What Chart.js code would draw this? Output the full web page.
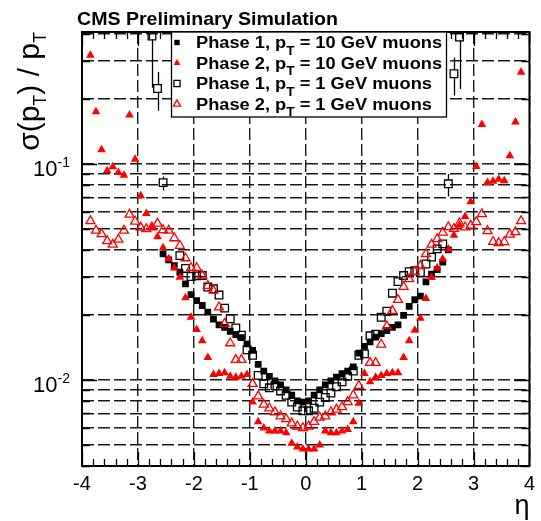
<!DOCTYPE html>
<html>
<head>
<meta charset="utf-8">
<script src="https://cdn.jsdelivr.net/npm/chart.js@4.4.1/dist/chart.umd.min.js"></script>
<style>
  html, body { margin: 0; padding: 0; background: #fff; }
</style>
</head>
<body>
<canvas id="ptResolution" width="541" height="521"></canvas>
<script>
// eta bin centres
const etaBins = [
  -3.85, -3.75, -3.65, -3.55, -3.45, -3.35, -3.25, -3.15, -3.05, -2.95,
  -2.85, -2.75, -2.65, -2.55, -2.45, -2.35, -2.25, -2.15, -2.05, -1.95,
  -1.85, -1.75, -1.65, -1.55, -1.45, -1.35, -1.25, -1.15, -1.05, -0.95,
  -0.85, -0.75, -0.65, -0.55, -0.45, -0.35, -0.25, -0.15, -0.05,
  0.05, 0.15, 0.25, 0.35, 0.45, 0.55, 0.65, 0.75, 0.85, 0.95,
  1.05, 1.15, 1.25, 1.35, 1.45, 1.55, 1.65, 1.75, 1.85, 1.95,
  2.05, 2.15, 2.25, 2.35, 2.45, 2.55, 2.65, 2.75, 2.85, 2.95,
  3.05, 3.15, 3.25, 3.35, 3.45, 3.55, 3.65, 3.75, 3.85
];

// sigma(pT)/pT per bin, null where there is no point
const phase1Pt10 = [
  null, null, null, null, null, null, null, null, null, null,
  null, null, null, 0.0383, 0.0359, 0.0338, 0.0315, 0.0278, 0.0248, 0.0233,
  0.0221, 0.0206, 0.0191, 0.0180, 0.0175, 0.0168, 0.0162, 0.0157, 0.0147, 0.0137,
  0.0118, 0.0110, 0.0104, 0.0099, 0.0095, 0.0090, 0.0085, 0.0080, 0.0079,
  0.0080, 0.0085, 0.0090, 0.0095, 0.0099, 0.0103, 0.0107, 0.0110, 0.0115, 0.0133,
  0.0143, 0.0150, 0.0158, 0.0164, 0.0169, 0.0175, 0.0180, 0.0199, 0.0219, 0.0235,
  0.0244, 0.0284, 0.0309, 0.0324, 0.0351, 0.0400, null, null, null, null,
  null, null, null, null, null, null, null, null, null
];

const phase2Pt10 = [
  0.318, 0.174, 0.116, 0.0928, 0.0968, 0.0912, 0.0886, 0.168, 0.105, 0.0712,
  0.0589, 0.0507, 0.046, 0.0409, 0.0364, 0.033, 0.0299, 0.024, 0.0195, 0.0171,
  0.0152, 0.0127, 0.0106, 0.0107, 0.0108, 0.0104, 0.0103, 0.0104, 0.0106, 0.0079,
  0.0064, 0.0060, 0.0058, 0.0058, 0.0058, 0.0057, 0.0051, 0.0049, 0.0048,
  0.0048, 0.0048, 0.0050, 0.0058, 0.0057, 0.0057, 0.0058, 0.0059, 0.0064, 0.0078,
  0.0107, 0.0098, 0.0103, 0.0105, 0.0107, 0.0108, 0.0108, 0.0127, 0.0152, 0.0170,
  0.0193, 0.0238, 0.0298, 0.0330, 0.0363, 0.0403, 0.0467, 0.052, 0.057, 0.0667,
  0.0971, 0.152, 0.0819, 0.083, 0.0849, 0.0835, 0.109, 0.156, 0.265
];

const phase1Pt1 = [
  null, null, null, null, null, null, null, null, null, null,
  null, 0.39, 0.223, 0.0818, null, null, 0.0376, 0.0328, 0.0301, 0.0303,
  0.0304, 0.0269, 0.0264, 0.0247, 0.0215, 0.0192, 0.0174, 0.0161, 0.0138, 0.0130,
  0.0105, 0.0096, 0.0092, 0.0094, 0.0089, 0.0085, 0.0079, 0.0075, 0.0072,
  0.0072, 0.0074, 0.0079, 0.0083, 0.0087, 0.0093, 0.0098, 0.0104, 0.0110, 0.0130,
  0.0132, 0.0160, 0.0163, 0.0195, 0.0208, 0.0252, 0.0285, 0.0304, 0.0317, 0.0320,
  0.0314, 0.0344, 0.0370, 0.0404, 0.0426, 0.0808, 0.261, 0.386, null, null,
  null, null, null, null, null, null, null, null, null
];

const phase2Pt1 = [
  0.0543, 0.0491, 0.0473, 0.0439, 0.0423, 0.0446, 0.0491, 0.0582, 0.0541, 0.0507,
  0.0499, 0.0509, 0.0529, 0.0494, 0.0491, 0.0453, 0.0418, 0.0366, 0.0330, 0.0330,
  0.0304, 0.0273, 0.0259, 0.0217, 0.0182, 0.0148, 0.0124, 0.0124, null, 0.0096,
  0.0084, 0.0077, 0.0074, 0.0071, 0.0068, 0.0066, 0.0063, 0.0061, 0.0060,
  0.0061, 0.0064, 0.0067, 0.0068, 0.0071, 0.0073, 0.0075, 0.0079, 0.0085, 0.0094,
  null, 0.0120, 0.0120, 0.0146, 0.0177, 0.0209, 0.0235, 0.0270, 0.0293, 0.0317,
  0.0338, 0.0383, 0.0423, 0.0449, 0.0481, 0.0510, 0.0500, 0.0531, 0.0509, 0.0518,
  0.0538, 0.0586, 0.0489, 0.0436, 0.0430, 0.0435, 0.0471, 0.0483, 0.0543
];

// visible error bars on the forward 1 GeV phase 1 points
const errEta = [-2.75, -2.65, -2.55, 2.55, 2.65, 2.75];
const errLow = [0.225, 0.176, 0.0753, 0.0706, 0.207, 0.222];
const errHigh = [0.55, 0.266, 0.0874, 0.0896, 0.31, 0.55];

const xTicks = [-4, -3, -2, -1, 0, 1, 2, 3, 4];
const yGrid = [0.004, 0.005, 0.006, 0.007, 0.008, 0.009,
  0.01, 0.02, 0.03, 0.04, 0.05, 0.06, 0.07, 0.08, 0.09,
  0.1, 0.2, 0.3, 0.4];
const yDecades = [0.01, 0.1];

const legendLabels = [
  ['Phase 1, p', 'T', ' = 10 GeV muons'],
  ['Phase 2, p', 'T', ' = 10 GeV muons'],
  ['Phase 1, p', 'T', ' = 1 GeV muons'],
  ['Phase 2, p', 'T', ' = 1 GeV muons']
];

const FONT = '"Liberation Sans", Arial, Helvetica, sans-serif';

function toPoints(values) {
  const pts = [];
  etaBins.forEach((eta, i) => {
    if (values[i] !== null) pts.push({ x: eta, y: values[i] });
  });
  return pts;
}

// draws text pieces one after another, subscripts shifted down
function drawRuns(ctx, runs, x, y, sx) {
  ctx.save();
  ctx.translate(x, y);
  ctx.scale(sx, 1);
  let cx = 0;
  runs.forEach(r => {
    ctx.font = r.font;
    ctx.fillText(r.t, cx, r.dy || 0);
    cx += ctx.measureText(r.t).width;
  });
  ctx.restore();
  return cx * sx;
}

function runsWidth(ctx, runs) {
  let w = 0;
  runs.forEach(r => { ctx.font = r.font; w += ctx.measureText(r.t).width; });
  return w;
}

const styles = [
  { pointStyle: 'rect', radius: 4.8, fill: '#000', stroke: '#000', bw: 0 },
  { pointStyle: 'triangle', radius: 5, fill: '#ff0000', stroke: '#ff0000', bw: 0 },
  { pointStyle: 'rect', radius: 5.4, fill: 'rgba(0,0,0,0)', stroke: '#000', bw: 1.3 },
  { pointStyle: 'triangle', radius: 5.2, fill: 'rgba(0,0,0,0)', stroke: '#ff0000', bw: 1.3 }
];

const decorPlugin = {
  id: 'decor',
  afterDatasetsDraw(chart) {
    const ctx = chart.ctx;
    const area = chart.chartArea;
    const xs = chart.scales.x;
    const ys = chart.scales.y;

    // error bars
    ctx.save();
    ctx.beginPath();
    ctx.rect(area.left, area.top, area.right - area.left, area.bottom - area.top);
    ctx.clip();
    ctx.strokeStyle = '#000';
    ctx.lineWidth = 1.3;
    const half = styles[2].radius * Math.SQRT1_2;
    errEta.forEach((eta, k) => {
      const i = etaBins.indexOf(eta);
      const px = Math.round(xs.getPixelForValue(eta)) + 0.5;
      const py = ys.getPixelForValue(phase1Pt1[i]);
      ctx.beginPath();
      ctx.moveTo(px, ys.getPixelForValue(errHigh[k]));
      ctx.lineTo(px, py - half);
      ctx.moveTo(px, py + half);
      ctx.lineTo(px, ys.getPixelForValue(errLow[k]));
      ctx.stroke();
    });
    ctx.restore();

    // tick marks inside the frame
    ctx.save();
    ctx.strokeStyle = '#000';
    ctx.lineWidth = 1.3;
    ctx.beginPath();
    for (let i = 0; i <= 40; i++) {
      const v = -4 + i * 0.2;
      const major = i % 5 === 0;
      const len = major ? 14 : 7;
      const px = Math.round(xs.getPixelForValue(v)) + 0.5;
      ctx.moveTo(px, area.bottom);
      ctx.lineTo(px, area.bottom - len);
      ctx.moveTo(px, area.top);
      ctx.lineTo(px, area.top + len);
    }
    yGrid.forEach(v => {
      const len = yDecades.includes(v) ? 15 : 8;
      const py = Math.round(ys.getPixelForValue(v)) + 0.5;
      ctx.moveTo(area.left, py);
      ctx.lineTo(area.left + len, py);
      ctx.moveTo(area.right, py);
      ctx.lineTo(area.right - len, py);
    });
    ctx.stroke();

    // frame
    ctx.lineWidth = 2;
    ctx.strokeRect(area.left, area.top, area.right - area.left, area.bottom - area.top);
    ctx.restore();

    // legend box
    ctx.save();
    const lx = 171.5, ly = area.top, lw = 275, lh = 85;
    ctx.fillStyle = '#fff';
    ctx.fillRect(lx, ly, lw, lh);
    ctx.strokeStyle = '#000';
    ctx.lineWidth = 1.3;
    ctx.strokeRect(lx, ly, lw, lh);
    const rowY = [42.5, 63, 83.5, 104];
    legendLabels.forEach((lab, k) => {
      const st = styles[k];
      ctx.fillStyle = st.fill;
      ctx.strokeStyle = st.stroke;
      ctx.lineWidth = st.bw;
      Chart.helpers.drawPoint(ctx, {
        pointStyle: st.pointStyle,
        radius: st.radius * 0.8,
        rotation: 0,
        borderWidth: st.bw
      }, 177, rowY[k]);
      ctx.fillStyle = '#000';
      ctx.textBaseline = 'alphabetic';
      ctx.textAlign = 'left';
      drawRuns(ctx, [
        { t: lab[0], font: 'bold 16px ' + FONT },
        { t: lab[1], font: 'bold 12px ' + FONT, dy: 6.5 },
        { t: lab[2], font: 'bold 16px ' + FONT }
      ], 196, rowY[k] + 5.5, 1.14);
    });
    ctx.restore();
  },
  afterDraw(chart) {
    const ctx = chart.ctx;
    const area = chart.chartArea;
    const ys = chart.scales.y;
    ctx.save();
    ctx.fillStyle = '#000';
    ctx.textAlign = 'left';
    ctx.textBaseline = 'alphabetic';

    // title
    drawRuns(ctx, [{ t: 'CMS Preliminary Simulation', font: 'bold 19px ' + FONT }], 77, 25, 1.03);

    // decade labels on the log axis
    yDecades.forEach(v => {
      const py = ys.getPixelForValue(v);
      const exp = String(Math.round(Math.log10(v)));
      const runs = [{ t: '10', font: '22px ' + FONT }];
      const w = runsWidth(ctx, runs);
      ctx.font = '14px ' + FONT;
      const ew = ctx.measureText(exp).width;
      const right = 70;
      ctx.font = '22px ' + FONT;
      ctx.fillText('10', right - ew - w, py + 12);
      ctx.font = '14px ' + FONT;
      ctx.fillText(exp, right - ew, py + 3);
    });

    // y title, rotated, ending at the top of the frame
    const titleRuns = [
      { t: '\u03c3(p', font: '30px ' + FONT },
      { t: 'T', font: '18px ' + FONT, dy: 7 },
      { t: ') / p', font: '30px ' + FONT },
      { t: 'T', font: '18px ' + FONT, dy: 7 }
    ];
    const tw = runsWidth(ctx, titleRuns);
    ctx.save();
    ctx.translate(39, area.top);
    ctx.rotate(-Math.PI / 2);
    drawRuns(ctx, titleRuns, -tw, 0, 1);
    ctx.restore();

    // x title
    ctx.font = '27px ' + FONT;
    ctx.textAlign = 'right';
    ctx.fillText('\u03b7', area.right, 514);
    ctx.restore();
  }
};

function dataset(label, values, st, order) {
  return {
    label: label,
    data: toPoints(values),
    pointStyle: st.pointStyle,
    pointRadius: st.radius,
    pointHoverRadius: st.radius,
    backgroundColor: st.fill,
    borderColor: st.stroke,
    borderWidth: st.bw,
    order: order
  };
}

const gridColor = '#1a1a1a';

new Chart(document.getElementById('ptResolution').getContext('2d'), {
  type: 'scatter',
  data: {
    datasets: [
      dataset('Phase 1, pT = 10 GeV muons', phase1Pt10, styles[0], 4),
      dataset('Phase 2, pT = 10 GeV muons', phase2Pt10, styles[1], 3),
      dataset('Phase 1, pT = 1 GeV muons', phase1Pt1, styles[2], 2),
      dataset('Phase 2, pT = 1 GeV muons', phase2Pt1, styles[3], 1)
    ]
  },
  options: {
    responsive: false,
    devicePixelRatio: 1,
    animation: false,
    layout: { padding: { left: 82, right: 5, top: 32, bottom: 0 } },
    plugins: {
      legend: { display: false },
      tooltip: { enabled: false }
    },
    scales: {
      x: {
        type: 'linear',
        min: -4,
        max: 4,
        afterBuildTicks: s => { s.ticks = xTicks.map(v => ({ value: v })); },
        afterFit: s => { s.height = 55; },
        ticks: {
          color: '#000',
          font: { family: FONT, size: 20 },
          padding: 6,
          maxRotation: 0,
          autoSkip: false
        },
        grid: { color: gridColor, lineWidth: 1.4, drawTicks: false },
        border: { display: false, dash: [12, 4] }
      },
      y: {
        type: 'logarithmic',
        min: 0.004,
        max: 0.407,
        afterBuildTicks: s => { s.ticks = yGrid.map(v => ({ value: v })); },
        afterFit: s => { s.width = 0; },
        ticks: { display: false },
        grid: { color: gridColor, lineWidth: 1.4, drawTicks: false },
        border: { display: false, dash: [12, 4] }
      }
    }
  },
  plugins: [decorPlugin]
});
</script>
</body>
</html>
